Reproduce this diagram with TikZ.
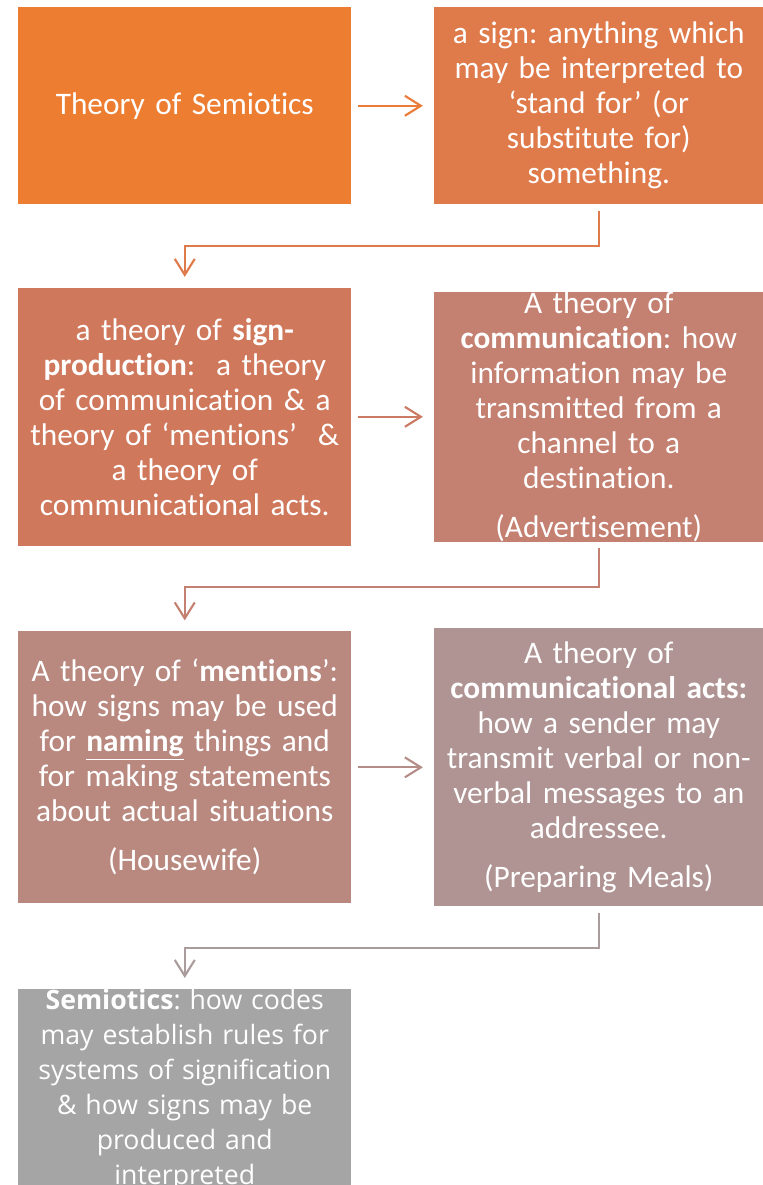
\documentclass[tikz,border=0pt]{standalone}
\usepackage{fontspec}
\setmainfont{Carlito}[Ligatures=NoCommon]
\newfontfamily\semiofont{Open Sans}
\usetikzlibrary{positioning,arrows.meta,calc}
\frenchspacing

\definecolor{semA}{HTML}{ED7D31}
\definecolor{semB}{HTML}{DF7A4A}
\definecolor{semC}{HTML}{D0785B}
\definecolor{semD}{HTML}{C48070}
\definecolor{semE}{HTML}{B98980}
\definecolor{semF}{HTML}{AF9493}
\definecolor{semG}{HTML}{A5A5A5}

\begin{document}
\begin{tikzpicture}[
    box/.style={rectangle, minimum width=249.75pt, inner sep=0pt,
    align=center, text width=240pt, text=white,
    font=\fontsize{23.5}{26.25}\selectfont},
    flow/.style={-{Straight Barb[length=12pt,width=15pt]}, line width=1.6pt,
    shorten <=4.5pt, shorten >=8pt}]

    \useasboundingbox (0,0) rectangle (572.25pt,-888.75pt);

    \node (theory) [box, fill=semA, minimum height=147.75pt, anchor=north west]
        at (13.5pt,-5.25pt) {Theory of Semiotics};
    \node (sign) [box, fill=semB, minimum width=247.5pt, minimum height=147.75pt,
        right=61.5pt of theory]
        {a sign: anything which\\ may be interpreted to\\ ‘stand for’ (or\\ substitute for)\\ something.};
    \node (prod) [box, fill=semC, minimum height=193.5pt, below=62.25pt of theory]
        {a theory of \textbf{sign-}\\ \textbf{production}:\ \ a theory\\ of communication \& a\\
         theory of ‘mentions’\ \ \&\\ a theory of\\ communicational acts.};
    \node (comm) [box, fill=semD, minimum width=247.5pt, minimum height=187.5pt,
        right=61.5pt of prod]
        {A theory of\\ \textbf{communication}: how\\ information may be\\ transmitted from a\\
         channel to a\\ destination.\\[10.5pt] (Advertisement)};
    \node (ment) [box, fill=semE, minimum height=204pt, below=63.75pt of prod]
        {A theory of ‘\textbf{mentions}’:\\ how signs may be used\\ for \underline{\textbf{naming}} things and\\
         for making statements\\ about actual situations\\[10.5pt] (Housewife)};
    \node (acts) [box, fill=semF, minimum width=247.5pt, minimum height=208.5pt,
        right=61.5pt of ment]
        {A theory of\\ \textbf{communicational acts:}\\ how a sender may\\ transmit verbal or non-\\
         verbal messages to an\\ addressee.\\[10.5pt] (Preparing Meals)};
    \node (codes) [box, fill=semG, minimum height=147.75pt, below=63.75pt of ment,
        font=\semiofont\fontsize{20}{26.25}\selectfont]
        {\textbf{Semiotics}: how codes\\ may establish rules for\\ systems of signification\\
         \& how signs may be\\ produced and\\ interpreted};

    % across
    \draw[flow, draw=semA!70!semB] (theory) -- (sign);
    \draw[flow, draw=semC!60!semD] (prod) -- (comm);
    \draw[flow, draw=semE!60!semF] (ment) -- (acts);

    % down to the next row
    \coordinate (turn1) at ($(sign.south)!0.5!(prod.north)$);
    \coordinate (turn2) at ($(comm.south)!0.5!(ment.north)$);
    \coordinate (turn3) at ($(acts.south)!0.5!(codes.north)$);
    \draw[flow, draw=semB] (sign.south) -- (sign.south |- turn1) -| (prod.north);
    \draw[flow, draw=semD] (comm.south) -- (comm.south |- turn2) -| (ment.north);
    \draw[flow, draw=semF!50!semG] (acts.south) -- (acts.south |- turn3) -| (codes.north);
\end{tikzpicture}
\end{document}
